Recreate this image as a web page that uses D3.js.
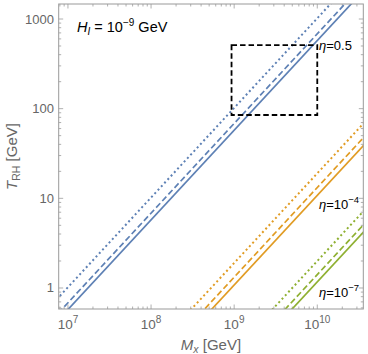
<!DOCTYPE html>
<html><head><meta charset="utf-8">
<script src="https://cdn.jsdelivr.net/npm/d3@7"></script>
<style>
body{margin:0;background:#fff;}
text{font-family:"Liberation Sans",Arial,sans-serif;}
</style></head>
<body><svg id="c" width="368" height="354"></svg>
<script>
// ---- data ----
const massEnds = [1e6, 1e11];              // M_x [GeV] at which each line is given
const etaLabels = ["0.5", "10^-4", "10^-7"];
const colors = ["#5E81B5", "#E19C24", "#8FB032"];
const styles = ["solid", "dashed", "dotted"];
// T_RH [GeV] at massEnds, per eta, per style (solid, dashed, dotted)
const blueT   = [[0.0575, 5750], [0.0684, 6840], [0.102, 10200]];
const orangeT = [[0.00108, 108], [0.00132, 132], [0.0019, 190]];
const greenT  = [[0.000117, 11.7], [0.000141, 14.1], [0.0002, 20]];
const xTicks = [1e7, 1e8, 1e9, 1e10];
const xTickExp = ["7", "8", "9", "10"];
const yTicks = [1, 10, 100, 1000];
const yTickLabels = ["1", "10", "100", "1000"];
const boxM = [9.3e8, 1e10];
const boxT = [85, 510];

const svg = d3.select("#c");
const L = 58.7, R = 363.3, T = 4, B = 309;
const x = d3.scaleLog().domain([7.74e6, 3.58e10]).range([L, R]);
const y = d3.scaleLog().domain([0.583, 1470]).range([B, T]);

svg.append("defs").append("clipPath").attr("id","clip")
  .append("rect").attr("x",L).attr("y",T).attr("width",R-L).attr("height",B-T);

// minor/major ticks inside frame
const tickCol = "#b0b0b0";
const g = svg.append("g");
function minorList(d0, d1){ const out=[]; for(let e=Math.floor(Math.log10(d0))-1;e<=Math.ceil(Math.log10(d1));e++){for(let k=1;k<10;k++){const v=k*Math.pow(10,e); if(v>=d0&&v<=d1) out.push({v, major:k===1});}} return out; }
minorList(...x.domain()).forEach(t=>{
  const len = t.major?4.5:2.5, px=x(t.v);
  g.append("line").attr("x1",px).attr("x2",px).attr("y1",B).attr("y2",B-len).attr("stroke",tickCol);
  g.append("line").attr("x1",px).attr("x2",px).attr("y1",T).attr("y2",T+len).attr("stroke",tickCol);
});
minorList(...y.domain()).forEach(t=>{
  const len = t.major?4.5:2.5, py=y(t.v);
  g.append("line").attr("y1",py).attr("y2",py).attr("x1",L).attr("x2",L+len).attr("stroke",tickCol);
  g.append("line").attr("y1",py).attr("y2",py).attr("x1",R).attr("x2",R-len).attr("stroke",tickCol);
});

// lines
const dash = {solid:null, dashed:"6,3", dotted:"2,2.8"};
const all = [blueT, orangeT, greenT];
const line = d3.line().x(d=>x(d[0])).y(d=>y(d[1]));
const lg = svg.append("g").attr("clip-path","url(#clip)");
all.forEach((ser, i)=>{
  ser.forEach((vals, j)=>{
    const pts = massEnds.map((m,k)=>[m, vals[k]]);
    lg.append("path").attr("d", line(pts)).attr("fill","none")
      .attr("stroke", colors[i]).attr("stroke-width", styles[j]==="dotted"?2:1.7)
      .attr("stroke-dasharray", dash[styles[j]]);
  });
});

// dashed box
svg.append("rect").attr("x",x(boxM[0])).attr("y",y(boxT[1]))
  .attr("width",x(boxM[1])-x(boxM[0])).attr("height",y(boxT[0])-y(boxT[1]))
  .attr("fill","none").attr("stroke","#000").attr("stroke-width",1.8).attr("stroke-dasharray","5.5,3");

// frame
svg.append("rect").attr("x",L).attr("y",T).attr("width",R-L).attr("height",B-T)
  .attr("fill","none").attr("stroke","#999").attr("stroke-width",1);

// tick labels
const lblCol = "#666";
xTicks.forEach((v,i)=>{
  const t = svg.append("text").attr("x",x(v)).attr("y",329).attr("text-anchor","middle")
    .attr("font-size",13.5).attr("fill",lblCol);
  t.append("tspan").text("10");
  t.append("tspan").attr("dy",-6).attr("font-size",10).text(xTickExp[i]);
});
yTicks.forEach((v,i)=>{
  svg.append("text").attr("x",54).attr("y",y(v)+4.5).attr("text-anchor","end")
    .attr("font-size",13).attr("fill",lblCol).text(yTickLabels[i]);
});

// axis titles
const xt = svg.append("text").attr("x",(L+R)/2).attr("y",350).attr("text-anchor","middle")
  .attr("font-size",15).attr("fill",lblCol);
xt.append("tspan").attr("font-style","italic").text("M");
xt.append("tspan").attr("font-style","italic").attr("font-size",10.5).attr("dy",3).text("x");
xt.append("tspan").attr("dy",-3).text(" [GeV]");

const yt = svg.append("text").attr("transform",`translate(17,${(T+B)/2}) rotate(-90)`)
  .attr("text-anchor","middle").attr("font-size",15).attr("fill",lblCol);
yt.append("tspan").attr("font-style","italic").text("T");
yt.append("tspan").attr("font-size",10.5).attr("dy",3).text("RH");
yt.append("tspan").attr("dy",-3).text(" [GeV]");

// annotations
const h = svg.append("text").attr("x",77).attr("y",32).attr("font-size",14.5).attr("fill","#000");
h.append("tspan").attr("font-style","italic").text("H");
h.append("tspan").attr("font-style","italic").attr("font-size",10).attr("dy",3).text("I");
h.append("tspan").attr("dy",-3).text(" = 10");
h.append("tspan").attr("font-size",10).attr("dy",-6).text("−9");
h.append("tspan").attr("dy",6).text(" GeV");

const etaPos = [[319,50],[319,209],[319,297]];
etaLabels.forEach((s,i)=>{
  const t = svg.append("text").attr("x",etaPos[i][0]).attr("y",etaPos[i][1]).attr("font-size",13).attr("fill","#000");
  t.append("tspan").attr("font-style","italic").text("η");
  if(s.includes("^")){
    const [b,e] = s.split("^");
    t.append("tspan").text("="+b);
    t.append("tspan").attr("font-size",9.5).attr("dy",-6).text(e.replace("-","−"));
  } else t.append("tspan").text("="+s);
});
</script></body></html>
